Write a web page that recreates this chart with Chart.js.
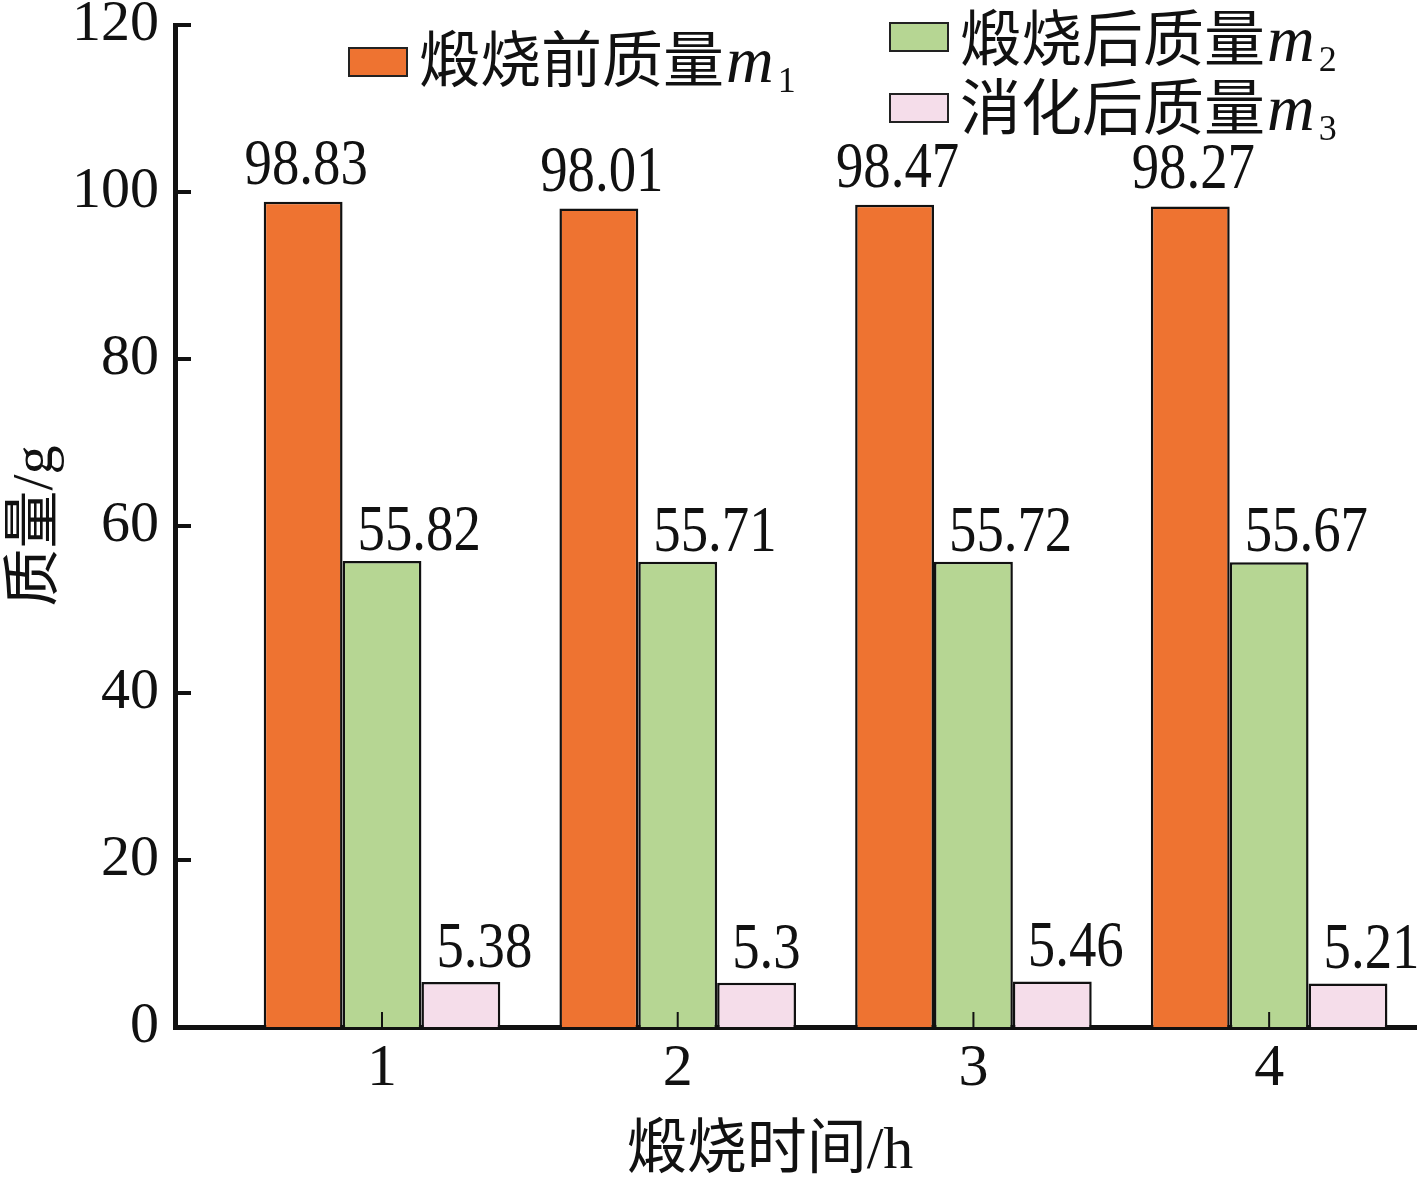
<!DOCTYPE html>
<html><head><meta charset="utf-8">
<script src="https://cdn.jsdelivr.net/npm/chart.js@4.4.1/dist/chart.umd.min.js"></script>
<style>html,body{margin:0;padding:0;background:#fff;overflow:hidden}
#wrap{width:1417px;height:1181px;position:relative}</style></head>
<body><div id="wrap"><canvas id="c"></canvas></div>
<script>
// ---- data ----
const categories = [1, 2, 3, 4];
const seriesNames = ['煅烧前质量', '煅烧后质量', '消化后质量'];
const seriesSymbol = 'm';
const seriesSubscripts = ['1', '2', '3'];
const m1 = [98.83, 98.01, 98.47, 98.27];
const m2 = [55.82, 55.71, 55.72, 55.67];
const m3 = [5.38, 5.3, 5.46, 5.21];
const yTickValues = [0, 20, 40, 60, 80, 100, 120];
const xTitle = '煅烧时间/h';
const yTitle = '质量/g';

// ---- style ----
const SERIF = "'Liberation Serif', 'Times New Roman', serif";
const MIXED = "'Liberation Serif', 'Noto Sans CJK SC', serif";
const CJK = "'Noto Sans CJK SC', sans-serif";
const fills = ['#EE7331', '#B6D693', '#F5DDEA'];

const seriesValues = [m1, m2, m3];
const datasets = seriesValues.map((vals, k) => ({
  label: seriesNames[k] + seriesSymbol + seriesSubscripts[k],
  data: vals.map((v, i) => ({ x: categories[i], y: v })),
  backgroundColor: fills[k],
  borderColor: '#111',
  borderWidth: 2.5,
  borderSkipped: 'bottom',
  categoryPercentage: 0.8,
  barPercentage: 1.0
}));

const inwardTicks = {
  id: 'inwardTicks',
  afterDatasetsDraw(chart) {
    const { ctx, chartArea: a, scales } = chart;
    ctx.save();
    ctx.strokeStyle = '#111';
    ctx.lineWidth = 4;
    yTickValues.forEach(v => {
      const y = scales.y.getPixelForValue(v);
      ctx.beginPath(); ctx.moveTo(a.left, y); ctx.lineTo(a.left + 16, y); ctx.stroke();
    });
    ctx.lineWidth = 2;
    categories.forEach(v => {
      const x = scales.x.getPixelForValue(v);
      ctx.beginPath(); ctx.moveTo(x, a.bottom); ctx.lineTo(x, a.bottom - 15); ctx.stroke();
    });
    ctx.restore();
  }
};

// narrow serif numerals like the reference (condensed Times)
const SQ = 0.83;
function drawNarrow(ctx, txt, x, y, align) {
  const w = ctx.measureText(txt).width * SQ;
  let left = x;
  if (align === 'center') left = x - w / 2;
  ctx.save();
  ctx.translate(left, y);
  ctx.scale(SQ, 1);
  ctx.textAlign = 'left';
  ctx.fillText(txt, 0, 0);
  ctx.restore();
}

const valueLabels = {
  id: 'valueLabels',
  afterDatasetsDraw(chart) {
    const { ctx } = chart;
    ctx.save();
    ctx.fillStyle = '#111';
    ctx.font = '66px ' + SERIF;
    ctx.textBaseline = 'alphabetic';
    chart.data.datasets.forEach((ds, k) => {
      const meta = chart.getDatasetMeta(k);
      meta.data.forEach((bar, i) => {
        const txt = String(seriesValues[k][i]);
        if (k === 0) {
          drawNarrow(ctx, txt, bar.x + 3, bar.y - 18, 'center');
        } else {
          drawNarrow(ctx, txt, bar.x - bar.width / 2 + 15, bar.y - (k === 1 ? 11 : 15), 'left');
        }
      });
    });
    ctx.restore();
  }
};

const xAxisTitle = {
  id: 'xAxisTitle',
  afterDraw(chart, args, opts) {
    const { ctx } = chart;
    ctx.save();
    ctx.fillStyle = '#111';
    ctx.font = '60px ' + MIXED;
    ctx.textAlign = 'center';
    ctx.textBaseline = 'alphabetic';
    ctx.fillText(xTitle, opts.x, opts.y);
    ctx.restore();
  }
};

const customLegend = {
  id: 'customLegend',
  afterDraw(chart, args, opts) {
    const { ctx } = chart;
    ctx.save();
    opts.items.forEach((it, k) => {
      ctx.fillStyle = fills[k];
      ctx.strokeStyle = '#222';
      ctx.lineWidth = 2;
      ctx.beginPath();
      ctx.rect(it.x, it.y, 58, 28);
      ctx.fill(); ctx.stroke();
      ctx.fillStyle = '#111';
      ctx.textAlign = 'left';
      ctx.textBaseline = 'alphabetic';
      let tx = it.x + 70;
      ctx.font = '61px ' + CJK;
      ctx.fillText(seriesNames[k], tx, it.base);
      tx += ctx.measureText(seriesNames[k]).width + 2;
      ctx.font = 'italic 66px ' + SERIF;
      ctx.fillText(seriesSymbol, tx, it.base);
      tx += ctx.measureText(seriesSymbol).width + 4;
      ctx.font = '36px ' + SERIF;
      ctx.fillText(seriesSubscripts[k], tx, it.base + 10);
    });
    ctx.restore();
  }
};

new Chart(document.getElementById('c'), {
  type: 'bar',
  data: { datasets },
  plugins: [inwardTicks, valueLabels, customLegend, xAxisTitle],
  options: {
    responsive: true,
    maintainAspectRatio: false,
    animation: false,
    layout: { padding: { top: 25, right: 0, left: 0, bottom: 0 } },
    plugins: {
      legend: { display: false },
      tooltip: { enabled: false },
      xAxisTitle: { x: 770, y: 1168 },
      customLegend: {
        items: [
          { x: 349, y: 48, base: 82 },
          { x: 890, y: 23, base: 61 },
          { x: 890, y: 94, base: 130 }
        ]
      }
    },
    scales: {
      x: {
        type: 'linear',
        offset: false,
        min: 0.3, max: 4.5,
        z: 1,
        afterBuildTicks: s => { s.ticks = categories.map(v => ({ value: v })); },
        afterFit: s => { s.height = 154; s.paddingLeft = 0; s.paddingRight = 0; },
        grid: { display: false, drawTicks: false, offset: false },
        border: { display: true, color: '#111', width: 5 },
        ticks: {
          color: '#111', padding: 12, maxRotation: 0,
          font: { family: SERIF, size: 60, lineHeight: 1 },
          callback: v => String(v)
        },
        title: { display: false }
      },
      y: {
        min: 0, max: 120,
        z: 1,
        afterBuildTicks: s => { s.ticks = yTickValues.map(v => ({ value: v })); },
        afterFit: s => { s.width = 175; s.paddingTop = 0; s.paddingBottom = 0; },
        grid: { display: false, drawTicks: false },
        border: { display: true, color: '#111', width: 5 },
        ticks: {
          color: '#111', padding: 16,
          font: { family: SERIF, size: 58, lineHeight: 0.8 },
          callback: v => String(v)
        },
        title: {
          display: true, text: yTitle, color: '#111',
          font: { family: MIXED, size: 58, lineHeight: 1 },
          padding: { top: 8, bottom: 0 }
        }
      }
    }
  }
});
</script>
</body></html>
